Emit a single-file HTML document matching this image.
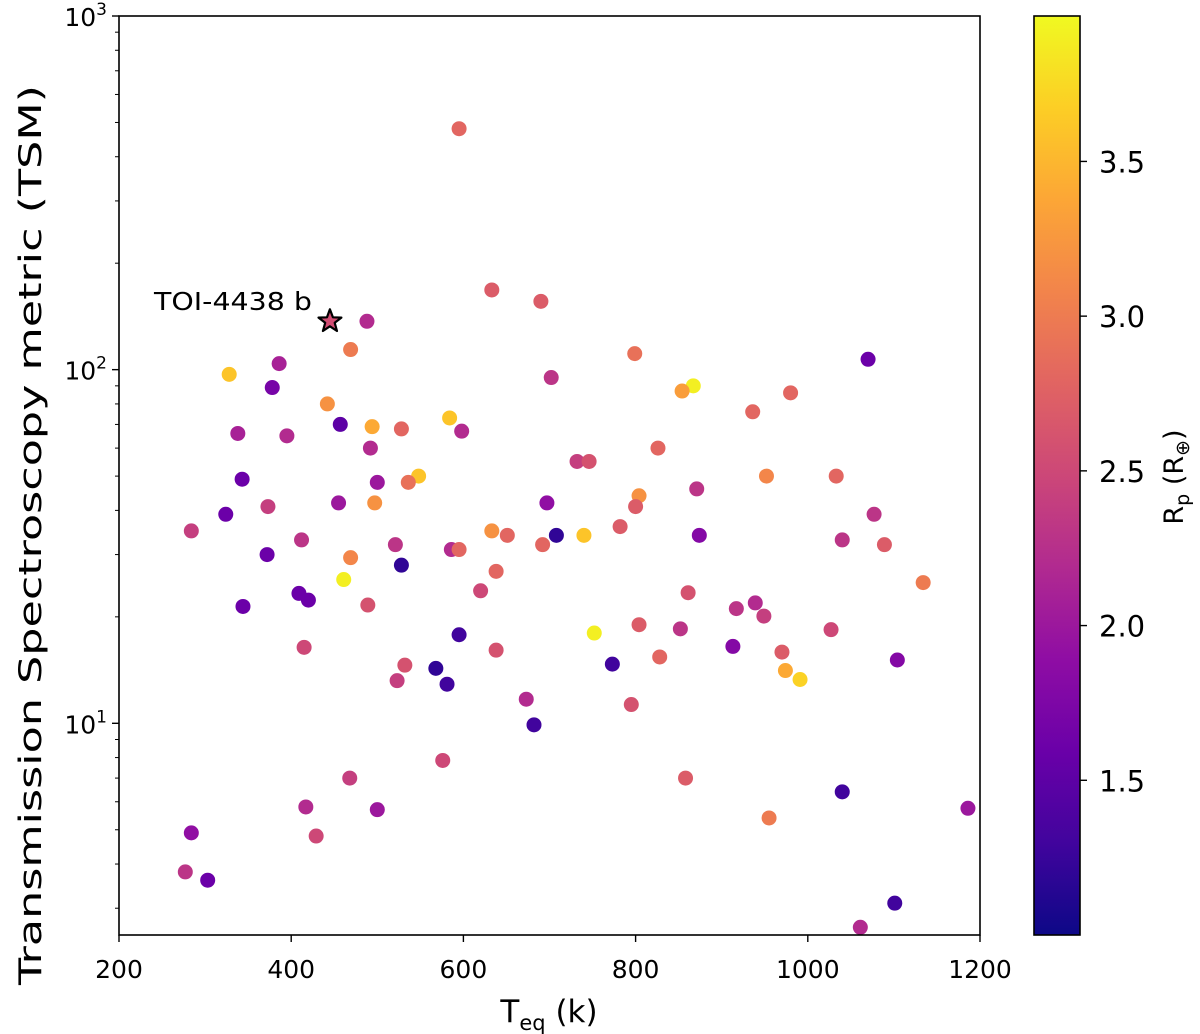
<!DOCTYPE html>
<html><head><meta charset="utf-8"><style>
html,body{margin:0;padding:0;background:#fff;}
svg{display:block;font-family:"DejaVu Sans","Liberation Sans",sans-serif;}
</style></head><body>
<svg id="chart" width="1200" height="1034" viewBox="0 0 1200 1034">
<defs>
<linearGradient id="plasma" x1="0" y1="1" x2="0" y2="0">
<stop offset="0" stop-color="#0d0887"/><stop offset="0.1" stop-color="#41049d"/><stop offset="0.2" stop-color="#6a00a8"/><stop offset="0.3" stop-color="#8f0da4"/><stop offset="0.4" stop-color="#b12a90"/><stop offset="0.5" stop-color="#cc4778"/><stop offset="0.6" stop-color="#e16462"/><stop offset="0.7" stop-color="#f2844b"/><stop offset="0.8" stop-color="#fca636"/><stop offset="0.9" stop-color="#fcce25"/><stop offset="1" stop-color="#f0f921"/>
</linearGradient>
</defs>
<g id="points"></g>
<rect x="119" y="16" width="861" height="919" fill="none" stroke="#000" stroke-width="1.6"/>
<g id="xaxis"></g>
<g id="yaxis"></g>
<text x="549" y="1022" font-size="31" text-anchor="middle">T<tspan font-size="21" dy="8">eq</tspan><tspan dy="-8"> (k)</tspan></text>
<text transform="translate(41,535) rotate(-90)" font-size="31" text-anchor="middle" textLength="900" lengthAdjust="spacingAndGlyphs">Transmission Spectroscopy metric (TSM)</text>
<text x="312" y="310" font-size="25" text-anchor="end" textLength="158" lengthAdjust="spacingAndGlyphs">TOI-4438 b</text>
<g id="star"></g>
<rect x="1034" y="16" width="46" height="919" fill="url(#plasma)" stroke="#000" stroke-width="1.6"/>
<g id="cbaxis"></g>
<text transform="translate(1183,477) rotate(-90)" font-size="27" text-anchor="middle">R<tspan font-size="19" dy="6">p</tspan><tspan dy="-6"> (R</tspan><tspan font-size="19" dy="6">⊕</tspan><tspan dy="-6">)</tspan></text>
</svg>
<script>
const teq=[595,633,690,488,469,799,1070,328,386,378,702,867,854,980,442,936,584,494,457,528,338,395,598,826,492,732,746,548,343,500,536,952,1033,
871,804,800,697,1077,708,692,740,782,874,1040,1089,1134,373,455,497,324,284,412,521,586,595,633,651,372,469,528,461,638,620,409,420,344,489,415,595,638,532,523,568,581,673,682,
861,917,939,949,1027,752,804,852,913,970,974,991,1104,773,828,795,576,468,417,500,429,284,277,303,858,1040,955,1186,1061,1101];
const tsm=[480,168,156,137,114,111,107,97,104,89,95,90,87,86,80,76,73,69,70,68,66,65,67,60,60,55,55,50,49,48,48,50,50,
46,44,41,42,39,34,32,34,36,34,33,32,25,41,42,42,39,35,33,32,31,31,35,34,30,29.4,28,25.5,26.9,23.7,23.3,22.3,21.4,21.6,16.4,17.8,16.1,14.6,13.2,14.3,12.9,11.7,9.9,
23.4,21.1,21.9,20.1,18.4,18,19,18.5,16.5,15.9,14.1,13.3,15.1,14.7,15.4,11.3,7.85,7.0,5.8,5.7,4.8,4.9,3.8,3.6,7.0,6.4,5.4,5.75,2.65,3.1];
const rp=[2.8,2.7,2.7,2.2,3.0,2.9,1.6,3.6,2.1,1.7,2.3,3.9,3.3,2.8,3.2,2.8,3.6,3.4,1.5,2.8,2.1,2.2,2.2,2.8,2.2,2.4,2.6,3.6,1.6,2.0,2.9,3.1,2.8,
2.3,3.2,2.7,1.9,2.3,1.2,2.8,3.6,2.7,1.8,2.3,2.7,3.0,2.4,2.0,3.2,1.6,2.4,2.3,2.3,2.2,2.8,3.2,2.8,1.6,3.1,1.2,3.9,2.8,2.5,1.6,1.6,1.6,2.6,2.5,1.3,2.6,2.6,2.4,1.2,1.3,2.2,1.3,
2.6,2.3,2.2,2.4,2.5,3.9,2.7,2.3,1.8,2.7,3.4,3.7,1.8,1.3,2.8,2.6,2.5,2.4,2.2,2.0,2.5,1.9,2.3,1.6,2.7,1.3,3.0,2.0,2.2,1.3];
const starTeq=445, starTsm=137, starRp=2.55;
const xTicks=[200,400,600,800,1000,1200];
const yDecades=[1,2,3];
const cbTicks=[1.5,2.0,2.5,3.0,3.5];

const NS="http://www.w3.org/2000/svg";
const X0=119,X1=980,Y0=16,Y1=935;
const LOGMIN=Math.log10(2.52),LOGMAX=3;
const RPMIN=1.0,RPMAX=3.97;
function xs(v){return X0+(v-200)/1000*(X1-X0);}
function ys(v){return Y1-(Math.log10(v)-LOGMIN)/(LOGMAX-LOGMIN)*(Y1-Y0);}
function cbs(v){return Y1-(v-RPMIN)/(RPMAX-RPMIN)*(Y1-Y0);}
const stops=["#0d0887","#41049d","#6a00a8","#8f0da4","#b12a90","#cc4778","#e16462","#f2844b","#fca636","#fcce25","#f0f921"];
function hex(h){return [1,3,5].map(i=>parseInt(h.substr(i,2),16));}
function plasma(v){let t=Math.max(0,Math.min(1,(v-RPMIN)/(RPMAX-RPMIN)))*10;let i=Math.min(9,Math.floor(t));let f=t-i;let a=hex(stops[i]),b=hex(stops[i+1]);return "rgb("+a.map((c,k)=>Math.round(c+(b[k]-c)*f)).join(",")+")";}
function mk(tag,attrs,parent){const e=document.createElementNS(NS,tag);for(const k in attrs)e.setAttribute(k,attrs[k]);parent.appendChild(e);return e;}

const pg=document.getElementById("points");
for(let i=0;i<teq.length;i++){
  const c=mk("circle",{cx:xs(teq[i]),cy:ys(tsm[i]),r:7.5,fill:plasma(rp[i])},pg);
  
  
}
(function(){
  const cx=xs(starTeq),cy=ys(starTsm),R=12,r=5;let p=[];
  for(let k=0;k<10;k++){const a=-Math.PI/2+k*Math.PI/5;const rr=k%2?r:R;p.push((cx+rr*Math.cos(a)).toFixed(1)+","+(cy+rr*Math.sin(a)).toFixed(1));}
  const s=mk("polygon",{points:p.join(" "),fill:plasma(starRp),stroke:"#000","stroke-width":2.2,"stroke-linejoin":"round"},document.getElementById("star"));
  
  
})();
const xa=document.getElementById("xaxis");
xTicks.forEach(v=>{
  const x=xs(v);
  mk("line",{x1:x,x2:x,y1:Y1,y2:Y1+7,stroke:"#000","stroke-width":1.4},xa);
  const t=mk("text",{x:x,y:978,"font-size":25,"text-anchor":"middle"},xa);
  t.textContent=v;
  
  
});
const ya=document.getElementById("yaxis");
yDecades.forEach(d=>{
  const y=ys(Math.pow(10,d));
  mk("line",{x1:X0-7,x2:X0,y1:y,y2:y,stroke:"#000","stroke-width":1.4},ya);
  const t=mk("text",{x:X0-12,y:y+10,"font-size":25,"text-anchor":"end"},ya);
  t.innerHTML='10<tspan font-size="17" dy="-11">'+d+'</tspan>';
  
  
});
for(let d=0;d<3;d++){for(let m=2;m<=9;m++){const v=m*Math.pow(10,d);if(v<2.52)continue;const y=ys(v);mk("line",{x1:X0-4,x2:X0,y1:y,y2:y,stroke:"#000","stroke-width":1},ya);}}
const cba=document.getElementById("cbaxis");
cbTicks.forEach(v=>{
  const y=cbs(v);
  mk("line",{x1:1080,x2:1087,y1:y,y2:y,stroke:"#000","stroke-width":1.4},cba);
  const t=mk("text",{x:1099,y:y+11,"font-size":29},cba);
  t.textContent=v.toFixed(1);
  
  
});
</script>
</body></html>
